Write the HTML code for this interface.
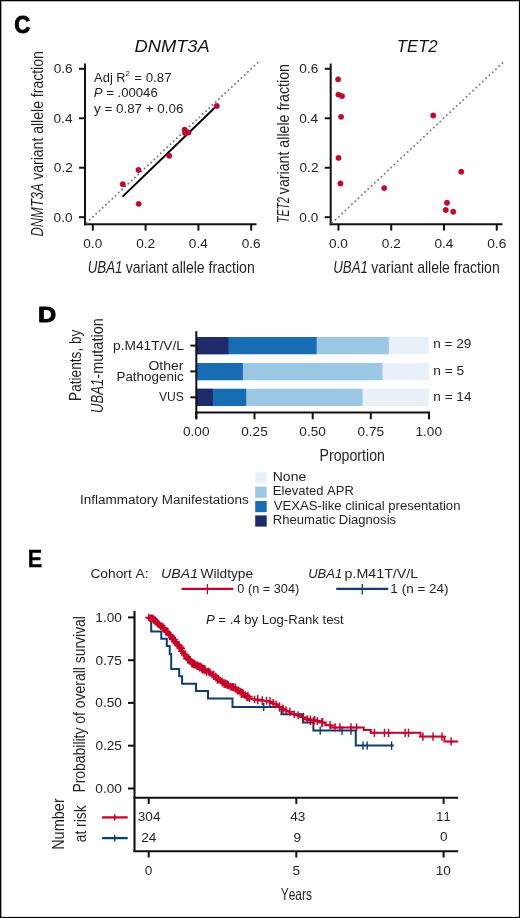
<!DOCTYPE html>
<html><head><meta charset="utf-8"><style>
html,body{margin:0;padding:0;background:#fff;}
body{width:520px;height:918px;overflow:hidden;}
svg{display:block;font-family:"Liberation Sans",sans-serif;will-change:transform;}
text{font-kerning:none;}
</style></head><body>
<svg width="520" height="918" viewBox="0 0 520 918">
<rect x="0" y="0" width="520" height="918" fill="#fff"/>
<text x="14.36" y="33.01" font-size="23.80" textLength="15.99" lengthAdjust="spacingAndGlyphs" fill="#000" font-weight="bold" stroke="#000" stroke-width="0.90" stroke-linejoin="round">C</text>
<line x1="85.00" y1="63.60" x2="85.00" y2="225.20" stroke="#111" stroke-width="2.00"/>
<line x1="84.00" y1="224.20" x2="256.50" y2="224.20" stroke="#111" stroke-width="2.00"/>
<line x1="79.00" y1="217.20" x2="85.00" y2="217.20" stroke="#111" stroke-width="2.00"/>
<text x="53.60" y="221.50" font-size="13.00" textLength="18.98" lengthAdjust="spacingAndGlyphs" fill="#231f20">0.0</text>
<line x1="79.00" y1="167.73" x2="85.00" y2="167.73" stroke="#111" stroke-width="2.00"/>
<text x="53.81" y="172.03" font-size="13.00" textLength="18.98" lengthAdjust="spacingAndGlyphs" fill="#231f20">0.2</text>
<line x1="79.00" y1="118.26" x2="85.00" y2="118.26" stroke="#111" stroke-width="2.00"/>
<text x="53.54" y="122.56" font-size="13.00" textLength="18.98" lengthAdjust="spacingAndGlyphs" fill="#231f20">0.4</text>
<line x1="79.00" y1="68.79" x2="85.00" y2="68.79" stroke="#111" stroke-width="2.00"/>
<text x="53.67" y="73.09" font-size="13.00" textLength="18.98" lengthAdjust="spacingAndGlyphs" fill="#231f20">0.6</text>
<line x1="92.80" y1="224.20" x2="92.80" y2="230.60" stroke="#111" stroke-width="2.00"/>
<text x="83.28" y="247.60" font-size="13.00" textLength="18.98" lengthAdjust="spacingAndGlyphs" fill="#231f20">0.0</text>
<line x1="145.60" y1="224.20" x2="145.60" y2="230.60" stroke="#111" stroke-width="2.00"/>
<text x="136.18" y="247.60" font-size="13.00" textLength="18.98" lengthAdjust="spacingAndGlyphs" fill="#231f20">0.2</text>
<line x1="198.40" y1="224.20" x2="198.40" y2="230.60" stroke="#111" stroke-width="2.00"/>
<text x="188.84" y="247.60" font-size="13.00" textLength="18.98" lengthAdjust="spacingAndGlyphs" fill="#231f20">0.4</text>
<line x1="251.20" y1="224.20" x2="251.20" y2="230.60" stroke="#111" stroke-width="2.00"/>
<text x="241.71" y="247.60" font-size="13.00" textLength="18.98" lengthAdjust="spacingAndGlyphs" fill="#231f20">0.6</text>
<text x="134.45" y="51.73" font-size="17.04" textLength="75.29" lengthAdjust="spacingAndGlyphs" fill="#111" font-style="italic">DNMT3A</text>
<text transform="translate(42.60 236.59) rotate(-90)" x="0" y="0" font-size="17.00" textLength="53.26" lengthAdjust="spacingAndGlyphs" fill="#231f20"><tspan font-style="italic">DNMT3A</tspan></text>
<text transform="translate(42.60 179.77) rotate(-90)" x="0" y="0" font-size="17.00" textLength="128.60" lengthAdjust="spacingAndGlyphs" fill="#231f20">variant allele fraction</text>
<line x1="330.70" y1="63.60" x2="330.70" y2="225.20" stroke="#111" stroke-width="2.00"/>
<line x1="329.70" y1="224.20" x2="502.50" y2="224.20" stroke="#111" stroke-width="2.00"/>
<line x1="324.70" y1="217.20" x2="330.70" y2="217.20" stroke="#111" stroke-width="2.00"/>
<text x="299.30" y="221.50" font-size="13.00" textLength="18.98" lengthAdjust="spacingAndGlyphs" fill="#231f20">0.0</text>
<line x1="324.70" y1="167.73" x2="330.70" y2="167.73" stroke="#111" stroke-width="2.00"/>
<text x="299.51" y="172.03" font-size="13.00" textLength="18.98" lengthAdjust="spacingAndGlyphs" fill="#231f20">0.2</text>
<line x1="324.70" y1="118.26" x2="330.70" y2="118.26" stroke="#111" stroke-width="2.00"/>
<text x="299.24" y="122.56" font-size="13.00" textLength="18.98" lengthAdjust="spacingAndGlyphs" fill="#231f20">0.4</text>
<line x1="324.70" y1="68.79" x2="330.70" y2="68.79" stroke="#111" stroke-width="2.00"/>
<text x="299.37" y="73.09" font-size="13.00" textLength="18.98" lengthAdjust="spacingAndGlyphs" fill="#231f20">0.6</text>
<line x1="338.50" y1="224.20" x2="338.50" y2="230.60" stroke="#111" stroke-width="2.00"/>
<text x="328.98" y="247.60" font-size="13.00" textLength="18.98" lengthAdjust="spacingAndGlyphs" fill="#231f20">0.0</text>
<line x1="391.25" y1="224.20" x2="391.25" y2="230.60" stroke="#111" stroke-width="2.00"/>
<text x="381.83" y="247.60" font-size="13.00" textLength="18.98" lengthAdjust="spacingAndGlyphs" fill="#231f20">0.2</text>
<line x1="444.00" y1="224.20" x2="444.00" y2="230.60" stroke="#111" stroke-width="2.00"/>
<text x="434.44" y="247.60" font-size="13.00" textLength="18.98" lengthAdjust="spacingAndGlyphs" fill="#231f20">0.4</text>
<line x1="496.75" y1="224.20" x2="496.75" y2="230.60" stroke="#111" stroke-width="2.00"/>
<text x="487.26" y="247.60" font-size="13.00" textLength="18.98" lengthAdjust="spacingAndGlyphs" fill="#231f20">0.6</text>
<text x="396.80" y="52.00" font-size="17.29" textLength="40.85" lengthAdjust="spacingAndGlyphs" fill="#111" font-style="italic">TET2</text>
<text transform="translate(288.60 222.95) rotate(-90)" x="0" y="0" font-size="17.00" textLength="25.81" lengthAdjust="spacingAndGlyphs" fill="#231f20"><tspan font-style="italic">TET2</tspan></text>
<text transform="translate(288.60 194.17) rotate(-90)" x="0" y="0" font-size="17.00" textLength="130.12" lengthAdjust="spacingAndGlyphs" fill="#231f20">variant allele fraction</text>
<text x="87.70" y="272.80" font-size="17.00" textLength="34.76" lengthAdjust="spacingAndGlyphs" fill="#231f20" font-style="italic">UBA1</text>
<text x="125.73" y="272.80" font-size="17.00" textLength="129.01" lengthAdjust="spacingAndGlyphs" fill="#231f20">variant allele fraction</text>
<text x="333.20" y="272.50" font-size="17.00" textLength="34.76" lengthAdjust="spacingAndGlyphs" fill="#231f20" font-style="italic">UBA1</text>
<text x="371.23" y="272.50" font-size="17.00" textLength="128.45" lengthAdjust="spacingAndGlyphs" fill="#231f20">variant allele fraction</text>
<line x1="86.50" y1="222.80" x2="257.61" y2="62.79" stroke="#7a7a7a" stroke-width="2" stroke-dasharray="0 4.4199" stroke-linecap="round"/>
<line x1="332.30" y1="222.80" x2="502.51" y2="62.99" stroke="#7a7a7a" stroke-width="2" stroke-dasharray="0 4.4896" stroke-linecap="round"/>
<line x1="123.10" y1="196.10" x2="214.20" y2="108.20" stroke="#000" stroke-width="2.00" stroke-linecap="round"/>
<circle cx="216.80" cy="106.00" r="2.65" fill="#c20a2e" stroke="#a3001f" stroke-width="0.5"/>
<circle cx="184.60" cy="129.60" r="2.65" fill="#c20a2e" stroke="#a3001f" stroke-width="0.5"/>
<circle cx="185.10" cy="133.00" r="2.65" fill="#c20a2e" stroke="#a3001f" stroke-width="0.5"/>
<circle cx="188.50" cy="132.50" r="2.65" fill="#c20a2e" stroke="#a3001f" stroke-width="0.5"/>
<circle cx="169.25" cy="155.75" r="2.65" fill="#c20a2e" stroke="#a3001f" stroke-width="0.5"/>
<circle cx="138.50" cy="170.00" r="2.65" fill="#c20a2e" stroke="#a3001f" stroke-width="0.5"/>
<circle cx="122.80" cy="184.20" r="2.65" fill="#c20a2e" stroke="#a3001f" stroke-width="0.5"/>
<circle cx="138.70" cy="203.80" r="2.65" fill="#c20a2e" stroke="#a3001f" stroke-width="0.5"/>
<circle cx="338.10" cy="79.30" r="2.65" fill="#c20a2e" stroke="#a3001f" stroke-width="0.5"/>
<circle cx="338.40" cy="94.60" r="2.65" fill="#c20a2e" stroke="#a3001f" stroke-width="0.5"/>
<circle cx="342.00" cy="96.10" r="2.65" fill="#c20a2e" stroke="#a3001f" stroke-width="0.5"/>
<circle cx="341.10" cy="116.80" r="2.65" fill="#c20a2e" stroke="#a3001f" stroke-width="0.5"/>
<circle cx="338.50" cy="157.90" r="2.65" fill="#c20a2e" stroke="#a3001f" stroke-width="0.5"/>
<circle cx="340.40" cy="183.50" r="2.65" fill="#c20a2e" stroke="#a3001f" stroke-width="0.5"/>
<circle cx="384.20" cy="188.10" r="2.65" fill="#c20a2e" stroke="#a3001f" stroke-width="0.5"/>
<circle cx="433.25" cy="115.50" r="2.65" fill="#c20a2e" stroke="#a3001f" stroke-width="0.5"/>
<circle cx="461.25" cy="171.75" r="2.65" fill="#c20a2e" stroke="#a3001f" stroke-width="0.5"/>
<circle cx="447.00" cy="202.75" r="2.65" fill="#c20a2e" stroke="#a3001f" stroke-width="0.5"/>
<circle cx="445.75" cy="210.00" r="2.65" fill="#c20a2e" stroke="#a3001f" stroke-width="0.5"/>
<circle cx="453.25" cy="211.75" r="2.65" fill="#c20a2e" stroke="#a3001f" stroke-width="0.5"/>
<text x="94.10" y="81.90" font-size="12.30" textLength="31.59" lengthAdjust="spacingAndGlyphs" fill="#231f20">Adj R</text>
<text x="125.50" y="76.10" font-size="7.00" textLength="4.40" lengthAdjust="spacingAndGlyphs" fill="#231f20">2</text>
<text x="134.23" y="81.90" font-size="12.30" textLength="37.37" lengthAdjust="spacingAndGlyphs" fill="#231f20">= 0.87</text>
<text x="93.70" y="97.00" font-size="12.30" textLength="64.06" lengthAdjust="spacingAndGlyphs" fill="#231f20"><tspan font-style="italic">P</tspan><tspan> = .00046</tspan></text>
<text x="94.03" y="112.70" font-size="12.80" textLength="89.43" lengthAdjust="spacingAndGlyphs" fill="#231f20">y = 0.87 + 0.06</text>
<text x="38.01" y="322.45" font-size="22.46" textLength="18.20" lengthAdjust="spacingAndGlyphs" fill="#000" font-weight="bold" stroke="#000" stroke-width="0.90" stroke-linejoin="round">D</text>
<rect x="196.30" y="337.00" width="232.70" height="17.20" fill="#e8f1fa"/>
<rect x="196.30" y="337.00" width="192.58" height="17.20" fill="#9bc6e4"/>
<rect x="196.30" y="337.00" width="120.36" height="17.20" fill="#176cb4"/>
<rect x="196.30" y="337.00" width="32.10" height="17.20" fill="#1e2d69"/>
<rect x="196.30" y="363.00" width="232.70" height="17.20" fill="#e8f1fa"/>
<rect x="196.30" y="363.00" width="186.16" height="17.20" fill="#9bc6e4"/>
<rect x="196.30" y="363.00" width="46.54" height="17.20" fill="#176cb4"/>
<rect x="196.30" y="388.80" width="232.70" height="17.20" fill="#e8f1fa"/>
<rect x="196.30" y="388.80" width="166.21" height="17.20" fill="#9bc6e4"/>
<rect x="196.30" y="388.80" width="49.86" height="17.20" fill="#176cb4"/>
<rect x="196.30" y="388.80" width="16.62" height="17.20" fill="#1e2d69"/>
<line x1="196.30" y1="331.20" x2="196.30" y2="419.20" stroke="#111" stroke-width="2.00"/>
<line x1="195.30" y1="412.60" x2="430.00" y2="412.60" stroke="#111" stroke-width="2.00"/>
<line x1="190.30" y1="345.60" x2="196.30" y2="345.60" stroke="#111" stroke-width="2.00"/>
<line x1="190.30" y1="371.40" x2="196.30" y2="371.40" stroke="#111" stroke-width="2.00"/>
<line x1="190.30" y1="397.30" x2="196.30" y2="397.30" stroke="#111" stroke-width="2.00"/>
<line x1="196.30" y1="412.60" x2="196.30" y2="419.20" stroke="#111" stroke-width="2.00"/>
<text x="182.99" y="435.90" font-size="13.00" textLength="26.57" lengthAdjust="spacingAndGlyphs" fill="#231f20">0.00</text>
<line x1="254.50" y1="412.60" x2="254.50" y2="419.20" stroke="#111" stroke-width="2.00"/>
<text x="241.23" y="435.90" font-size="13.00" textLength="26.57" lengthAdjust="spacingAndGlyphs" fill="#231f20">0.25</text>
<line x1="312.70" y1="412.60" x2="312.70" y2="419.20" stroke="#111" stroke-width="2.00"/>
<text x="299.39" y="435.90" font-size="13.00" textLength="26.57" lengthAdjust="spacingAndGlyphs" fill="#231f20">0.50</text>
<line x1="370.80" y1="412.60" x2="370.80" y2="419.20" stroke="#111" stroke-width="2.00"/>
<text x="357.53" y="435.90" font-size="13.00" textLength="26.57" lengthAdjust="spacingAndGlyphs" fill="#231f20">0.75</text>
<line x1="429.00" y1="412.60" x2="429.00" y2="419.20" stroke="#111" stroke-width="2.00"/>
<text x="415.45" y="435.90" font-size="13.00" textLength="26.57" lengthAdjust="spacingAndGlyphs" fill="#231f20">1.00</text>
<text x="113.11" y="349.60" font-size="12.50" textLength="70.79" lengthAdjust="spacingAndGlyphs" fill="#231f20">p.M41T/V/L</text>
<text x="148.47" y="370.00" font-size="12.50" textLength="35.06" lengthAdjust="spacingAndGlyphs" fill="#231f20">Other</text>
<text x="116.43" y="381.00" font-size="12.50" textLength="67.20" lengthAdjust="spacingAndGlyphs" fill="#231f20">Pathogenic</text>
<text x="158.94" y="401.00" font-size="12.50" textLength="24.92" lengthAdjust="spacingAndGlyphs" fill="#231f20">VUS</text>
<text x="433.32" y="348.10" font-size="12.50" textLength="38.03" lengthAdjust="spacingAndGlyphs" fill="#231f20">n = 29</text>
<text x="433.31" y="374.60" font-size="12.50" textLength="30.87" lengthAdjust="spacingAndGlyphs" fill="#231f20">n = 5</text>
<text x="433.32" y="400.60" font-size="12.50" textLength="38.13" lengthAdjust="spacingAndGlyphs" fill="#231f20">n = 14</text>
<text x="319.57" y="461.10" font-size="17.00" textLength="65.34" lengthAdjust="spacingAndGlyphs" fill="#231f20">Proportion</text>
<text transform="translate(81.00 400.89) rotate(-90)" x="0" y="0" font-size="17.00" textLength="71.29" lengthAdjust="spacingAndGlyphs" fill="#231f20">Patients, by</text>
<text transform="translate(102.50 413.09) rotate(-90)" x="0" y="0" font-size="17.00" textLength="34.44" lengthAdjust="spacingAndGlyphs" fill="#231f20"><tspan font-style="italic">UBA1</tspan></text>
<text transform="translate(102.50 378.65) rotate(-90)" x="0" y="0" font-size="17.00" textLength="60.45" lengthAdjust="spacingAndGlyphs" fill="#231f20">-mutation</text>
<text x="80.09" y="503.60" font-size="12.50" textLength="168.59" lengthAdjust="spacingAndGlyphs" fill="#231f20">Inflammatory Manifestations</text>
<rect x="255.20" y="472.20" width="11.50" height="11.20" fill="#e8f1fa"/>
<text x="272.78" y="481.00" font-size="12.50" textLength="33.46" lengthAdjust="spacingAndGlyphs" fill="#231f20">None</text>
<rect x="255.20" y="486.60" width="11.50" height="11.20" fill="#9bc6e4"/>
<text x="272.85" y="495.40" font-size="12.50" textLength="81.05" lengthAdjust="spacingAndGlyphs" fill="#231f20">Elevated APR</text>
<rect x="255.20" y="501.00" width="11.50" height="11.20" fill="#176cb4"/>
<text x="273.83" y="509.80" font-size="12.50" textLength="186.61" lengthAdjust="spacingAndGlyphs" fill="#231f20">VEXAS-like clinical presentation</text>
<rect x="255.20" y="515.40" width="11.50" height="11.20" fill="#1e2d69"/>
<text x="272.86" y="524.20" font-size="12.50" textLength="123.19" lengthAdjust="spacingAndGlyphs" fill="#231f20">Rheumatic Diagnosis</text>
<text x="27.63" y="566.85" font-size="24.35" textLength="14.52" lengthAdjust="spacingAndGlyphs" fill="#000" font-weight="bold" stroke="#000" stroke-width="0.30" stroke-linejoin="round">E</text>
<text x="90.40" y="578.00" font-size="12.80" textLength="58.21" lengthAdjust="spacingAndGlyphs" fill="#231f20">Cohort A:</text>
<text x="161.14" y="577.90" font-size="12.80" textLength="36.89" lengthAdjust="spacingAndGlyphs" fill="#231f20" font-style="italic">UBA1</text>
<text x="200.53" y="577.90" font-size="12.80" textLength="52.58" lengthAdjust="spacingAndGlyphs" fill="#231f20">Wildtype</text>
<text x="308.23" y="577.90" font-size="12.80" textLength="33.91" lengthAdjust="spacingAndGlyphs" fill="#231f20" font-style="italic">UBA1</text>
<text x="344.57" y="577.90" font-size="12.80" textLength="73.64" lengthAdjust="spacingAndGlyphs" fill="#231f20">p.M41T/V/L</text>
<line x1="181.50" y1="588.90" x2="233.30" y2="588.90" stroke="#c2042b" stroke-width="2.20"/>
<line x1="207.40" y1="584.00" x2="207.40" y2="594.40" stroke="#c2042b" stroke-width="1.30"/>
<text x="237.29" y="593.20" font-size="12.80" textLength="61.93" lengthAdjust="spacingAndGlyphs" fill="#231f20">0 (n = 304)</text>
<line x1="336.20" y1="588.90" x2="388.30" y2="588.90" stroke="#0e3d6e" stroke-width="2.20"/>
<line x1="362.30" y1="584.00" x2="362.30" y2="594.40" stroke="#0e3d6e" stroke-width="1.30"/>
<text x="390.39" y="593.20" font-size="12.80" textLength="58.17" lengthAdjust="spacingAndGlyphs" fill="#231f20">1 (n = 24)</text>
<text x="205.91" y="624.10" font-size="12.80" textLength="137.87" lengthAdjust="spacingAndGlyphs" fill="#231f20"><tspan font-style="italic">P</tspan><tspan> = .4 by Log-Rank test</tspan></text>
<line x1="134.50" y1="610.90" x2="134.50" y2="852.10" stroke="#111" stroke-width="2.10"/>
<line x1="133.50" y1="797.80" x2="458.20" y2="797.80" stroke="#111" stroke-width="2.00"/>
<line x1="133.50" y1="851.20" x2="458.20" y2="851.20" stroke="#111" stroke-width="2.00"/>
<line x1="128.00" y1="617.40" x2="134.50" y2="617.40" stroke="#111" stroke-width="2.00"/>
<text x="95.33" y="621.70" font-size="13.00" textLength="26.57" lengthAdjust="spacingAndGlyphs" fill="#231f20">1.00</text>
<line x1="128.00" y1="660.20" x2="134.50" y2="660.20" stroke="#111" stroke-width="2.00"/>
<text x="95.40" y="664.50" font-size="13.00" textLength="26.57" lengthAdjust="spacingAndGlyphs" fill="#231f20">0.75</text>
<line x1="128.00" y1="702.90" x2="134.50" y2="702.90" stroke="#111" stroke-width="2.00"/>
<text x="95.33" y="707.20" font-size="13.00" textLength="26.57" lengthAdjust="spacingAndGlyphs" fill="#231f20">0.50</text>
<line x1="128.00" y1="745.70" x2="134.50" y2="745.70" stroke="#111" stroke-width="2.00"/>
<text x="95.40" y="750.00" font-size="13.00" textLength="26.57" lengthAdjust="spacingAndGlyphs" fill="#231f20">0.25</text>
<line x1="128.00" y1="788.50" x2="134.50" y2="788.50" stroke="#111" stroke-width="2.00"/>
<text x="95.33" y="792.80" font-size="13.00" textLength="26.57" lengthAdjust="spacingAndGlyphs" fill="#231f20">0.00</text>
<line x1="148.70" y1="797.80" x2="148.70" y2="803.90" stroke="#111" stroke-width="2.00"/>
<line x1="148.70" y1="851.20" x2="148.70" y2="857.50" stroke="#111" stroke-width="2.00"/>
<text x="144.88" y="874.70" font-size="13.00" textLength="7.59" lengthAdjust="spacingAndGlyphs" fill="#231f20">0</text>
<line x1="296.30" y1="797.80" x2="296.30" y2="803.90" stroke="#111" stroke-width="2.00"/>
<line x1="296.30" y1="851.20" x2="296.30" y2="857.50" stroke="#111" stroke-width="2.00"/>
<text x="292.51" y="874.70" font-size="13.00" textLength="7.59" lengthAdjust="spacingAndGlyphs" fill="#231f20">5</text>
<line x1="443.60" y1="797.80" x2="443.60" y2="803.90" stroke="#111" stroke-width="2.00"/>
<line x1="443.60" y1="851.20" x2="443.60" y2="857.50" stroke="#111" stroke-width="2.00"/>
<text x="435.75" y="874.70" font-size="13.00" textLength="15.18" lengthAdjust="spacingAndGlyphs" fill="#231f20">10</text>
<text x="280.69" y="899.50" font-size="17.00" textLength="31.25" lengthAdjust="spacingAndGlyphs" fill="#231f20">Years</text>
<text transform="translate(85.00 792.61) rotate(-90)" x="0" y="0" font-size="17.00" textLength="176.55" lengthAdjust="spacingAndGlyphs" fill="#231f20">Probability of overall survival</text>
<text transform="translate(64.00 849.86) rotate(-90)" x="0" y="0" font-size="17.00" textLength="51.60" lengthAdjust="spacingAndGlyphs" fill="#231f20">Number</text>
<text transform="translate(85.60 842.25) rotate(-90)" x="0" y="0" font-size="17.00" textLength="36.78" lengthAdjust="spacingAndGlyphs" fill="#231f20">at risk</text>
<text x="137.77" y="821.40" font-size="13.00" textLength="22.78" lengthAdjust="spacingAndGlyphs" fill="#231f20">304</text>
<text x="290.26" y="821.40" font-size="13.00" textLength="15.18" lengthAdjust="spacingAndGlyphs" fill="#231f20">43</text>
<text x="436.33" y="821.40" font-size="13.00" textLength="14.17" lengthAdjust="spacingAndGlyphs" fill="#231f20">11</text>
<text x="141.29" y="841.60" font-size="13.00" textLength="15.18" lengthAdjust="spacingAndGlyphs" fill="#231f20">24</text>
<text x="293.61" y="841.50" font-size="13.00" textLength="7.59" lengthAdjust="spacingAndGlyphs" fill="#231f20">9</text>
<text x="439.98" y="841.40" font-size="13.00" textLength="7.59" lengthAdjust="spacingAndGlyphs" fill="#231f20">0</text>
<line x1="102.10" y1="817.40" x2="127.70" y2="817.40" stroke="#c2042b" stroke-width="2.30"/>
<line x1="114.70" y1="814.20" x2="114.70" y2="820.70" stroke="#c2042b" stroke-width="1.50"/>
<line x1="102.10" y1="838.10" x2="127.70" y2="838.10" stroke="#0e3d6e" stroke-width="2.30"/>
<line x1="114.70" y1="834.90" x2="114.70" y2="841.40" stroke="#0e3d6e" stroke-width="1.50"/>
<path d="M148.7,617.4 H151.2 V631.6 H161.3 V638.8 H166.8 V646.1 H169.7 V654.1 H171.2 V668.9 H179.2 V676.2 H182.1 V683.7 H196 V691 H208 V698.6 H232.5 V706.9 H281.5 V714.2 H302.9 V722.6 H313.4 V730.6 H355.8 V745.6 H393.8" fill="none" stroke="#0e3d6e" stroke-width="2" />
<line x1="263.70" y1="702.70" x2="263.70" y2="711.10" stroke="#0e3d6e" stroke-width="1.40"/>
<line x1="320.20" y1="726.40" x2="320.20" y2="734.80" stroke="#0e3d6e" stroke-width="1.40"/>
<line x1="342.00" y1="726.40" x2="342.00" y2="734.80" stroke="#0e3d6e" stroke-width="1.40"/>
<line x1="351.00" y1="726.40" x2="351.00" y2="734.80" stroke="#0e3d6e" stroke-width="1.40"/>
<line x1="363.00" y1="741.40" x2="363.00" y2="749.80" stroke="#0e3d6e" stroke-width="1.40"/>
<line x1="367.20" y1="741.40" x2="367.20" y2="749.80" stroke="#0e3d6e" stroke-width="1.40"/>
<line x1="391.60" y1="741.40" x2="391.60" y2="749.80" stroke="#0e3d6e" stroke-width="1.40"/>
<path d="M148.7,617.6 L152.7,619.3 L156.5,622.0 L160.4,625.3 L164.2,629.0 L168.1,633.3 L171.9,637.3 L175.8,642.2 L179.6,647.2 L183.6,652.6 L187.7,658.2 L191.5,662.3 L195.4,665.5 L199.2,667.0 L203.1,668.8 L206.9,671.2 L210.8,673.5 L214.6,676.5 L218.6,679.4 L222.7,681.5 L226.5,685.0 L230.4,687.0 L234.2,688.2 L238.1,690.8 L241.9,693.0 L245.8,696.0 L249.6,698.2 L253.5,699.4 L261.5,699.8 L265.0,700.8 L269.2,701.8 L273.0,703.4 L276.9,705.0 L280.8,707.2 L284.6,709.4 L288.5,711.4 L292.7,714.0 L300.4,716.9 L308.1,718.8 L315.8,720.8 L320.0,722.3 L325.4,722.5 L325.4,725.2 L330.8,725.2 L330.8,727.4 L363.8,727.4 L363.8,730.0 L370.8,730.0 L370.8,732.8 L420.5,732.8 L420.5,736.6 L444.4,736.6 L444.4,741.4 L458.1,741.4" fill="none" stroke="#c2042b" stroke-width="2" />
<path d="M148.80,613.69v7.33M145.13,617.36h7.33M149.71,614.69v7.16M146.13,618.27h7.16M150.90,614.69v7.80M147.00,618.59h7.80M151.94,614.21v8.12M147.88,618.27h8.12M153.18,614.92v7.95M149.20,618.90h7.95M154.44,616.25v7.20M150.84,619.85h7.20M155.20,616.55v8.82M150.79,620.96h8.82M155.91,617.24v7.49M152.17,620.98h7.49M157.37,618.40v9.08M152.83,622.94h9.08M158.30,619.71v7.87M154.37,623.65h7.87M159.21,621.51v7.10M155.66,625.06h7.10M160.81,622.45v7.64M156.99,626.27h7.64M161.93,622.59v7.26M158.30,626.22h7.26M163.38,623.50v8.80M158.99,627.90h8.80M164.51,624.69v8.28M160.37,628.83h8.28M165.79,627.06v7.82M161.88,630.97h7.82M166.62,628.18v7.14M163.05,631.75h7.14M167.90,628.64v7.45M164.17,632.37h7.45M169.38,630.96v7.94M165.41,634.93h7.94M170.55,631.43v8.29M166.40,635.58h8.29M171.91,633.41v7.66M168.08,637.24h7.66M173.22,635.16v8.54M168.95,639.43h8.54M173.98,635.37v8.26M169.84,639.50h8.26M175.36,637.22v8.93M170.90,641.69h8.93M176.59,639.79v7.63M172.77,643.61h7.63M177.56,641.66v7.26M173.93,645.29h7.26M178.29,641.01v8.67M173.96,645.35h8.67M179.77,642.83v8.08M175.73,646.87h8.08M180.89,643.98v8.47M176.66,648.21h8.47M182.24,647.06v8.26M178.11,651.19h8.26M183.73,649.54v7.69M179.89,653.38h7.69M185.08,650.77v8.31M180.92,654.93h8.31M186.60,652.83v8.00M182.60,656.83h8.00M187.66,654.15v9.08M183.12,658.69h9.08M189.08,655.42v8.46M184.85,659.65h8.46M190.18,655.90v8.54M185.91,660.17h8.54M191.72,658.13v9.18M187.13,662.72h9.18M193.21,660.41v7.63M189.40,664.22h7.63M194.00,659.93v8.47M189.77,664.17h8.47M194.82,660.26v8.02M190.82,664.26h8.02M195.72,661.47v7.26M192.09,665.09h7.26M197.29,661.19v8.69M192.94,665.54h8.69M198.38,662.31v7.54M194.61,666.08h7.54M199.64,662.57v8.92M195.19,667.03h8.92M200.62,662.75v8.30M196.47,666.90h8.30M201.77,663.69v9.17M197.19,668.28h9.17M202.82,664.68v9.13M198.26,669.25h9.13M203.83,664.75v8.23M199.72,668.87h8.23M205.06,665.20v9.17M200.48,669.78h9.17M206.56,667.96v7.70M202.71,671.81h7.70M208.45,667.60v7.86M204.52,671.53h7.86M210.07,668.40v8.37M205.88,672.59h8.37M211.98,670.63v7.93M208.02,674.59h7.93M213.81,670.86v8.24M209.69,674.98h8.24M215.80,672.87v8.53M211.53,677.13h8.53M217.40,674.96v8.78M213.01,679.35h8.78M218.40,674.96v8.64M214.08,679.28h8.64M220.23,676.80v7.51M216.48,680.55h7.51M222.19,677.48v8.96M217.71,681.96h8.96M224.07,678.94v9.00M219.58,683.44h9.00M225.56,679.84v8.20M221.46,683.94h8.20M227.21,680.32v8.67M222.88,684.65h8.67M228.27,681.35v7.53M224.50,685.12h7.53M230.07,682.44v7.72M226.20,686.30h7.72M231.55,683.32v7.51M227.80,687.08h7.51M232.70,682.97v7.70M228.84,686.83h7.70M233.57,683.22v8.13M229.51,687.28h8.13M235.40,683.57v9.15M230.82,688.14h9.15M237.38,686.68v7.70M233.54,690.53h7.70M238.29,686.42v8.09M234.24,690.46h8.09M240.05,687.86v7.65M236.23,691.69h7.65M241.34,688.61v9.39M236.65,693.31h9.39M242.32,689.08v8.37M238.14,693.27h8.37M243.48,689.67v7.60M239.68,693.47h7.60M245.20,691.29v7.93M241.24,695.26h7.93M247.05,693.45v7.72M243.19,697.31h7.72M247.90,691.71v9.30M243.25,696.36h9.30M249.44,694.31v7.69M245.59,698.16h7.69M254.60,695.81v7.45M250.87,699.53h7.45M257.70,694.98v9.36M253.02,699.66h9.36M262.30,696.29v8.79M257.90,700.68h8.79M266.50,696.66v8.13M262.43,700.73h8.13M270.00,697.07v8.94M265.53,701.54h8.94M273.20,699.06v8.96M268.72,703.54h8.96M276.00,700.40v7.85M272.08,704.32h7.85M279.50,702.34v9.37M274.82,707.03h9.37M283.00,704.60v9.01M278.49,709.11h9.01M286.00,706.25v8.88M281.56,710.69h8.88M290.00,707.62v8.44M285.78,711.84h8.44M294.20,710.58v7.46M290.47,714.30h7.46M298.10,711.20v7.96M294.12,715.18h7.96M303.50,712.84v8.79M299.11,717.23h8.79M307.30,715.28v8.29M303.15,719.42h8.29M310.40,715.50v9.38M305.71,720.18h9.38M313.50,716.96v8.13M309.44,721.02h8.13M314.60,716.06v7.85M310.67,719.99h7.85M317.30,716.89v7.81M313.40,720.79h7.81M321.90,717.99v9.20M317.30,722.59h9.20M322.70,718.30v8.20M318.60,722.40h8.20M330.10,721.10v8.20M326.00,725.20h8.20M335.10,723.30v8.20M331.00,727.40h8.20M339.90,723.30v8.20M335.80,727.40h8.20M351.00,723.30v8.20M346.90,727.40h8.20M356.60,723.30v8.20M352.50,727.40h8.20M374.40,728.70v8.20M370.30,732.80h8.20M384.50,728.70v8.20M380.40,732.80h8.20M388.60,728.70v8.20M384.50,732.80h8.20M405.20,728.70v8.20M401.10,732.80h8.20M408.50,728.70v8.20M404.40,732.80h8.20M422.90,732.50v8.20M418.80,736.60h8.20M433.00,732.50v8.20M428.90,736.60h8.20M442.00,732.50v8.20M437.90,736.60h8.20M451.10,737.30v8.20M447.00,741.40h8.20" stroke="#c2042b" stroke-width="1.45" fill="none"/>
<rect x="0.5" y="0.5" width="519" height="917" fill="none" stroke="#000" stroke-width="1"/>
<rect x="1" y="1" width="1" height="916" fill="#000" opacity="0.35"/>
<rect x="2" y="1" width="516" height="1" fill="#000" opacity="0.3"/>
<rect x="518" y="1" width="1" height="916" fill="#000" opacity="0.12"/>
<rect x="1" y="916" width="518" height="1" fill="#000" opacity="0.1"/>
</svg>
</body></html>
